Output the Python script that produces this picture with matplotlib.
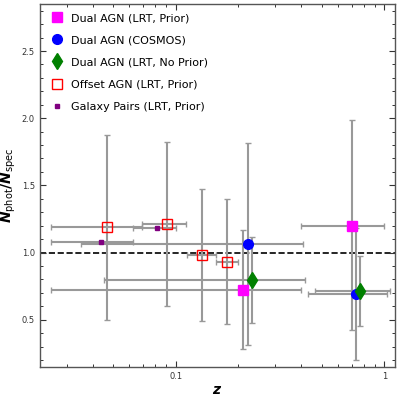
import matplotlib
matplotlib.use("Agg")
import matplotlib.pyplot as plt
import numpy as np

# ---- data ----
# Dual AGN (LRT, Prior)
dl_z = [0.211, 0.700]
dl_zlo = [0.0252, 0.397]
dl_zhi = [0.397, 1.00]
dl_r = [0.719, 1.201]
dl_rlo = [0.278, 0.420]
dl_rhi = [1.166, 1.987]

# Dual AGN (COSMOS)
dc_z = [0.221, 0.731]
dc_zlo = [0.0351, 0.432]
dc_zhi = [0.408, 1.03]
dc_r = [1.064, 0.692]
dc_rlo = [0.308, 0.201]
dc_rhi = [1.818, 1.184]

# Dual AGN (LRT, No Prior)
dn_z = [0.231, 0.764]
dn_zlo = [0.0453, 0.465]
dn_zhi = [0.418, 1.064]
dn_r = [0.796, 0.714]
dn_rlo = [0.478, 0.455]
dn_rhi = [1.116, 0.975]

# Offset AGN (LRT, Prior)
of_z = [0.047, 0.0906, 0.134, 0.177]
of_zlo = [0.0252, 0.0687, 0.1129, 0.156]
of_zhi = [0.0687, 0.1124, 0.156, 0.1995]
of_r = [1.189, 1.213, 0.980, 0.930]
of_rlo = [0.497, 0.604, 0.487, 0.465]
of_rhi = [1.875, 1.825, 1.470, 1.396]

# Galaxy Pairs (LRT, Prior)
gp_z = [0.0439, 0.0811]
gp_zlo = [0.0252, 0.0626]
gp_zhi = [0.0626, 0.1003]
gp_r = [1.079, 1.179]

labels = ["Dual AGN (LRT, Prior)", "Dual AGN (COSMOS)", "Dual AGN (LRT, No Prior)",
          "Offset AGN (LRT, Prior)", "Galaxy Pairs (LRT, Prior)"]

def xerr(z, lo, hi):
    z = np.array(z); return [z - np.array(lo), np.array(hi) - z]

fig = plt.figure(figsize=(3.99, 3.99), dpi=100)
ax = fig.add_axes([0.0995, 0.081, 0.8905, 0.909])

ecol = "#999999"
ekw = dict(fmt="none", ecolor=ecol, elinewidth=1.5, capsize=2.5, capthick=1.0, zorder=2)

ax.axhline(1.0, color="black", ls="--", lw=1.2, zorder=1.5)

ax.errorbar(dl_z, dl_r, xerr=xerr(dl_z, dl_zlo, dl_zhi), yerr=xerr(dl_r, dl_rlo, dl_rhi), **ekw)
ax.errorbar(dc_z, dc_r, xerr=xerr(dc_z, dc_zlo, dc_zhi), yerr=xerr(dc_r, dc_rlo, dc_rhi), **ekw)
ax.errorbar(dn_z, dn_r, xerr=xerr(dn_z, dn_zlo, dn_zhi), yerr=xerr(dn_r, dn_rlo, dn_rhi), **ekw)
ax.errorbar(of_z, of_r, xerr=xerr(of_z, of_zlo, of_zhi), yerr=xerr(of_r, of_rlo, of_rhi), **ekw)
ax.errorbar(gp_z, gp_r, xerr=xerr(gp_z, gp_zlo, gp_zhi), **ekw)

ax.plot(dl_z, dl_r, ls="none", marker="s", ms=7, color="magenta", mec="magenta", label=labels[0], zorder=3)
ax.plot(dc_z, dc_r, ls="none", marker="o", ms=7, color="blue", mec="blue", label=labels[1], zorder=3)
ax.plot(dn_z, dn_r, ls="none", marker="d", ms=8, color="green", mec="green", label=labels[2], zorder=3)
ax.plot(of_z, of_r, ls="none", marker="s", ms=6.5, mfc="none", mec="red", mew=1.0, label=labels[3], zorder=3)
ax.plot(gp_z, gp_r, ls="none", marker="s", ms=3.5, color="purple", mec="purple", label=labels[4], zorder=3)

ax.set_xscale("log")
ax.set_xlim(0.0223, 1.125)
ax.set_ylim(0.15, 2.85)
ax.set_yticks([0.5, 1.0, 1.5, 2.0, 2.5])
ax.yaxis.set_minor_locator(matplotlib.ticker.MultipleLocator(0.1))
ax.xaxis.set_major_formatter(matplotlib.ticker.FuncFormatter(lambda v, p: "%g" % v))

for s in ax.spines.values():
    s.set_color("#555555")
    s.set_linewidth(1.0)
ax.tick_params(which="both", direction="in", top=True, right=True, colors="#333333", labelsize=6)
ax.tick_params(which="major", length=4, width=0.8)
ax.tick_params(which="minor", length=2.5, width=0.7)

ax.set_xlabel(r"$\mathbfit{z}$", fontsize=10, labelpad=2)
ax.set_ylabel(r"$\mathbfit{N}_{\rm phot}\mathbf{/}\mathbfit{N}_{\rm spec}$", fontsize=10, labelpad=3)

ax.legend(loc="upper left", bbox_to_anchor=(0.02, 0.987), frameon=False, fontsize=8,
          handlelength=1.0, handletextpad=0.8, labelspacing=1.09, borderaxespad=0.0, numpoints=1)

fig.savefig("out.png", dpi=100)
